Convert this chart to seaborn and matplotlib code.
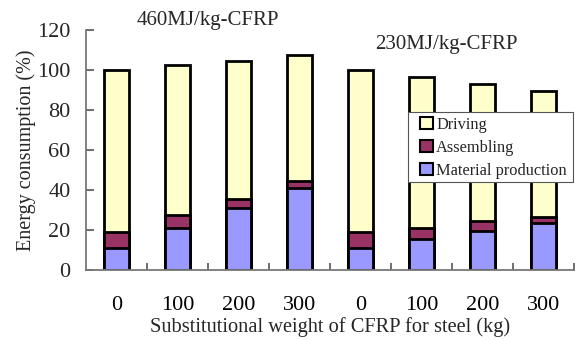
import matplotlib
matplotlib.use("Agg")
import matplotlib.pyplot as plt
from matplotlib.patches import Patch, Rectangle
from matplotlib.ticker import FixedLocator
import numpy as np
import pandas as pd
import seaborn as sns

# Substituted CFRP weight (kg) for each bar, two CFRP energy intensities
weights = ["0", "100", "200", "300", "0", "100", "200", "300"]
material = [11.0, 21.0, 31.0, 41.0, 11.0, 15.3, 19.5, 23.7]
assembling = [8.0, 6.5, 4.7, 3.3, 8.0, 5.9, 5.0, 3.0]
driving = [81.0, 75.0, 69.0, 63.0, 81.0, 75.5, 68.3, 62.8]
group_labels = ["460MJ/kg-CFRP", "230MJ/kg-CFRP"]

sns.set_theme(style="white")
plt.rcParams["font.family"] = ["Liberation Serif", "DejaVu Serif"]

bar_id = [f"b{i}" for i in range(len(weights))]
df = pd.DataFrame({
    "bar": bar_id,
    "material": material,
    "assembling": assembling,
    "driving": driving,
})
df["lvl_assembling"] = df["material"] + df["assembling"]
df["lvl_total"] = df["lvl_assembling"] + df["driving"]

colors = {"Driving": "#FFFFCC", "Assembling": "#993366",
          "Material production": "#9999FF"}

fig = plt.figure(figsize=(5.75, 3.4), dpi=100)
ax = fig.add_axes([0.1496, 0.206, 0.8487, 0.706])

width = 0.42
for col, name in [("lvl_total", "Driving"),
                  ("lvl_assembling", "Assembling"),
                  ("material", "Material production")]:
    sns.barplot(data=df, x="bar", y=col, order=bar_id, ax=ax,
                color=colors[name], saturation=1, width=width,
                edgecolor="black", linewidth=2.0, errorbar=None)

ax.set_xlim(-0.5, len(weights) - 0.5)
ax.set_ylim(0, 120)
ax.set_yticks(np.arange(0, 121, 20))
ax.set_xticks(range(len(weights)))
ax.set_xticklabels(weights)
ax.xaxis.set_minor_locator(FixedLocator(np.arange(0.5, len(weights), 1.0)))

ax.tick_params(axis="x", which="major", length=0, pad=19, labelsize=16,
               colors="black")
ax.tick_params(axis="x", which="minor", length=5, width=1.2, direction="in",
               bottom=True, color="#555555")
ax.tick_params(axis="y", length=6, width=1.2, direction="in", left=True,
               labelsize=16, pad=11, color="#555555")
for s in ["top", "right"]:
    ax.spines[s].set_visible(False)
for s in ["left", "bottom"]:
    ax.spines[s].set_color("#777777")
    ax.spines[s].set_linewidth(1.3)

ax.set_xlabel("Substitutional weight of CFRP for steel (kg)", fontsize=14.7,
              labelpad=1)
ax.set_ylabel("Energy consumption (%)", fontsize=14.5, labelpad=1)

ax.text(1.5, 124.5, group_labels[0], ha="center", va="center", fontsize=15,
        clip_on=False)
ax.text(5.4, 112.5, group_labels[1], ha="center", va="center", fontsize=15)

# Legend box drawn as its own rectangle, entries placed inside it
ax.add_patch(Rectangle((0.66, 0.367), 0.338, 0.291, transform=ax.transAxes,
                       facecolor="white", edgecolor="#555555", linewidth=0.8,
                       zorder=5, clip_on=False))
handles = [Patch(facecolor=colors[n], edgecolor="black", linewidth=1.5, label=n)
           for n in ["Driving", "Assembling", "Material production"]]
leg = ax.legend(handles=handles, loc="upper left",
                bbox_to_anchor=(0.684, 0.638), fontsize=11.8, frameon=False,
                handlelength=0.8, handleheight=0.8,
                handletextpad=0.2, labelspacing=0.42, borderpad=0,
                borderaxespad=0)
leg.set_zorder(6)

fig.savefig("out.png", dpi=100)
